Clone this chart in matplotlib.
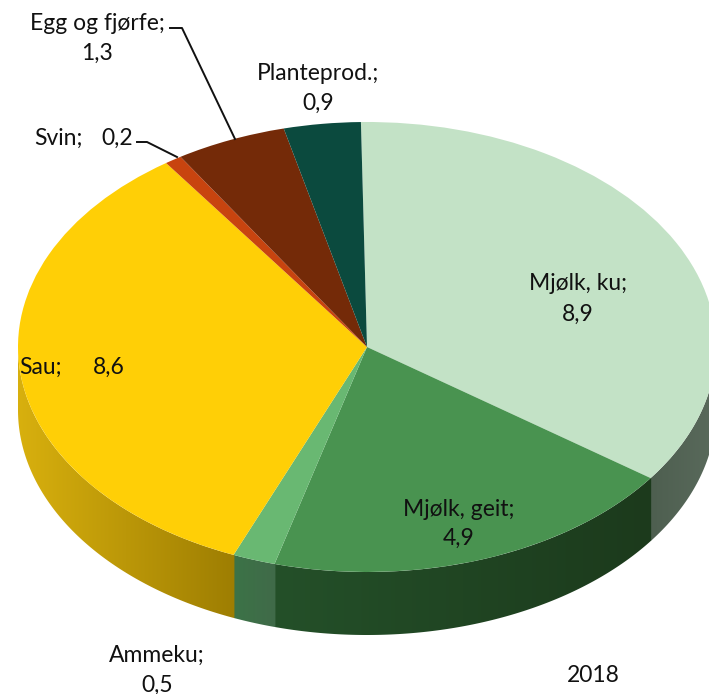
import numpy as np
from matplotlib import pyplot as plt
from matplotlib.patches import Polygon

categories = ["Mjølk, ku", "Mjølk, geit", "Ammeku", "Sau", "Svin", "Egg og fjørfe", "Planteprod."]
values = [8.9, 4.9, 0.5, 8.6, 0.2, 1.3, 0.9]
value_labels = ["8,9", "4,9", "0,5", "8,6", "0,2", "1,3", "0,9"]
top_colors = ["#c3e2c6", "#499350", "#69b872", "#ffcf06", "#c8440f", "#742a08", "#0b4a3e"]
side_left = ["#4e5f50", "#245029", "#3c7347", "#d8b00e", "#a03608", "#5a2006", "#083a30"]
side_right = ["#5a6a5c", "#1c3a1c", "#406a49", "#9e7e02", "#a03608", "#5a2006", "#083a30"]
year = "2018"

W, H = 709, 694
CX, CY, RX, RY, DEPTH = 367, 347, 349, 225, 63
START = 91


def px(x, y):
    # picture pixels to pie units
    return (x - CX) / RX, (CY - y) / RY


def hex_rgb(c):
    return np.array([int(c[i:i + 2], 16) / 255 for i in (1, 3, 5)])


def main():
    plt.rcParams["font.family"] = ["Lato", "DejaVu Sans"]
    fig = plt.figure(figsize=(W / 100, H / 100), dpi=100)
    ax = fig.add_axes([0, 0, 1, 1])

    # top face
    ax.pie(values, colors=top_colors, startangle=START, counterclock=False, radius=1,
           wedgeprops={"linewidth": 0, "zorder": 3})

    # side wall, a horizontal gradient clipped to each slice
    depth = DEPTH / RY
    edges = START - np.cumsum([0] + values) / sum(values) * 360
    for i in range(len(values)):
        # only the front half of the ellipse shows (angles below zero, mod 360)
        lo = max(edges[i + 1], -180)
        hi = min(edges[i], 0)
        if lo >= hi:
            continue
        # slight overlap with the slice drawn before, hides the seam
        ang = np.radians(np.linspace(lo, min(hi + 0.15, 0), 120))
        x = np.cos(ang)
        y = np.sin(ang)
        outline = np.column_stack([np.r_[x, x[::-1]], np.r_[y, y[::-1] - depth]])
        f = np.linspace(0, 1, 256)[None, :, None]
        grad = hex_rgb(side_left[i])[None, None, :] * (1 - f) + hex_rgb(side_right[i])[None, None, :] * f
        im = ax.imshow(grad, extent=(x.min(), x.max(), y.min() - depth, y.max()),
                       aspect="auto", zorder=2)
        clip = Polygon(outline, closed=True, transform=ax.transData, facecolor="none", edgecolor="none")
        ax.add_patch(clip)
        im.set_clip_path(clip)

    ax.set_aspect("auto")
    ax.set_xlim(px(0, 0)[0], px(W, 0)[0])
    ax.set_ylim(px(0, H)[1], px(0, 0)[1])
    ax.axis("off")

    # labels
    def label(x, y, s, ha="center"):
        ax.text(*px(x, y), s, ha=ha, va="center", fontsize=16.5, color="#111111", zorder=5)

    label(97, 23, "Egg og fjørfe;")
    label(97, 53, value_labels[5])
    label(318, 73, "Planteprod.;")
    label(318, 103, value_labels[6])
    label(34, 138, "Svin;", ha="left")
    label(133, 138, value_labels[4], ha="right")
    label(578, 284, "Mjølk, ku;")
    label(578, 314, value_labels[0])
    label(19, 367, "Sau;", ha="left")
    label(125, 367, value_labels[3], ha="right")
    label(459, 509, "Mjølk, geit;")
    label(459, 538, value_labels[1])
    label(157, 655, "Ammeku;")
    label(157, 685, value_labels[2])
    label(593, 676, year)

    # leader lines
    for pts in ([(170, 28), (182, 28), (235, 139)], [(137, 142), (147, 142), (177, 157)]):
        xy = np.array([px(*p) for p in pts])
        ax.plot(xy[:, 0], xy[:, 1], color="#111111", lw=1.4, zorder=4)

    fig.savefig("out.png", dpi=100)


if __name__ == "__main__":
    main()
